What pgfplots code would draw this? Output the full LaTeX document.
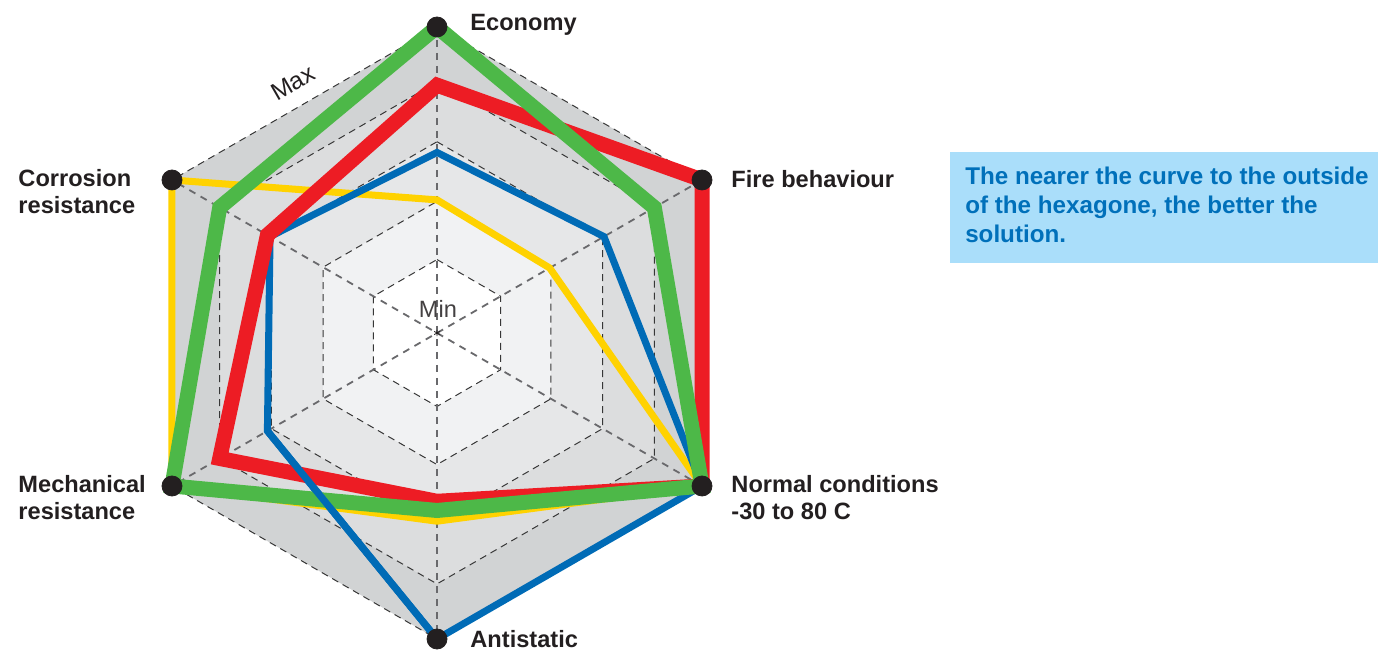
\documentclass[border=0pt]{standalone}
\usepackage{fontspec}
\setmainfont{Liberation Sans}
\usepackage{pgfplots}
\pgfplotsset{compat=1.18}
\definecolor{cgreen}{RGB}{77,184,72}
\definecolor{cred}{RGB}{237,28,36}
\definecolor{cblue}{RGB}{0,107,182}
\definecolor{cyellow}{RGB}{255,210,0}
\definecolor{cdot}{RGB}{35,31,32}
\definecolor{band1}{RGB}{241,242,243}
\definecolor{band2}{RGB}{230,231,232}
\definecolor{band3}{RGB}{220,221,222}
\definecolor{band4}{RGB}{209,211,212}
\definecolor{gridc}{RGB}{55,55,55}
\definecolor{spokec}{RGB}{105,105,108}
\definecolor{boxbg}{RGB}{170,222,250}
\definecolor{boxtxt}{RGB}{0,112,186}
\pgfplotsset{
  hexlev/.style={data cs=polar, draw=gridc, line width=0.5bp, dash pattern=on 3.5bp off 2.5bp, fill=#1},
  spoke/.style={data cs=polar, draw=spokec, line width=0.9bp, dash pattern=on 3.5bp off 3bp},
  series/.style 2 args={data cs=polar, draw=#1, line width=#2, line join=miter, miter limit=10},
}
\begin{document}
\begin{tikzpicture}
\begin{axis}[name=ax, x=153bp, y=153bp,
  xmin=-1.4281, xmax=3.0784, ymin=-1.0425, ymax=1.0882,
  hide axis, clip=false]
% background hexagon bands (levels)
\addplot[hexlev=band4] coordinates {(90,1) (30,1) (-30,1) (-90,1) (-150,1) (150,1)} -- cycle;
\addplot[hexlev=band3] coordinates {(90,0.82) (30,0.82) (-30,0.82) (-90,0.82) (-150,0.82) (150,0.82)} -- cycle;
\addplot[hexlev=band2] coordinates {(90,0.625) (30,0.625) (-30,0.625) (-90,0.625) (-150,0.625) (150,0.625)} -- cycle;
\addplot[hexlev=band1] coordinates {(90,0.43) (30,0.43) (-30,0.43) (-90,0.43) (-150,0.43) (150,0.43)} -- cycle;
\addplot[hexlev=white] coordinates {(90,0.24) (30,0.24) (-30,0.24) (-90,0.24) (-150,0.24) (150,0.24)} -- cycle;
% spokes
\addplot[spoke] coordinates {(90,1) (270,1)};
\addplot[spoke] coordinates {(30,1) (210,1)};
\addplot[spoke] coordinates {(-30,1) (150,1)};
% order of axes: Economy 90, Fire 30, Normal -30, Antistatic -90, Mechanical -150, Corrosion 150
\addplot[series={cyellow}{3.5bp}] coordinates {(90,0.435) (30,0.425) (-30,1.0) (-90,0.615) (-150,1.0) (150,1.0)} -- cycle;
\addplot[series={cblue}{3.5bp}] coordinates {(90,0.59) (30,0.63) (-30,1.0) (-90,1.0) (-150,0.64) (150,0.63)} -- cycle;
\addplot[series={cred}{7.5bp}] coordinates {(90,0.81) (30,1.0) (-30,1.0) (-90,0.55) (-150,0.82) (150,0.64)} -- cycle;
\addplot[series={cgreen}{7.5bp}] coordinates {(90,1.0) (30,0.82) (-30,1.0) (-90,0.58) (-150,1.0) (150,0.82)} -- cycle;
\addplot[series={cblue}{3.5bp}] coordinates {(-150,0.64) (-90,1.0)};
% vertex dots
\addplot[data cs=polar, only marks, mark=*, mark size=5bp, mark options={draw=cdot, fill=cdot}]
  coordinates {(90,1) (30,1) (-30,1) (-90,1) (-150,1) (150,1)};
\addplot[only marks, mark=asterisk, mark size=1.6bp, mark options={draw=cdot, line width=0.4bp}] coordinates {(0,0)};
% labels
\begin{scope}[every node/.style={inner sep=0pt, text=cdot, font=\bfseries\fontsize{11.8bp}{14bp}\selectfont, anchor=base west}]
\node at (axis cs:0.108,0.987) {Economy};
\node at (axis cs:0.961,0.477) {Fire behaviour};
\node at (axis cs:0.961,-0.520) {Normal conditions};
\node at (axis cs:0.961,-0.611) {-30 to 80 C};
\node at (axis cs:0.108,-1.029) {Antistatic};
\node at (axis cs:-1.369,-0.520) {Mechanical};
\node at (axis cs:-1.369,-0.611) {resistance};
\node at (axis cs:-1.369,0.480) {Corrosion};
\node at (axis cs:-1.369,0.392) {resistance};
\end{scope}
\node[inner sep=0pt, text=cdot, font=\fontsize{12.2bp}{14bp}\selectfont, rotate=30] at (axis cs:-0.4706,0.817) {Max};
\node[inner sep=0pt, text=cdot!85, font=\fontsize{11.8bp}{14bp}\selectfont] at (axis cs:0.003,0.078) {Min};
% info box
\fill[boxbg] (axis cs:1.676,0.5915) rectangle (axis cs:3.075,0.229);
\begin{scope}[every node/.style={inner sep=0pt, text=boxtxt, font=\bfseries\fontsize{12.1bp}{14.5bp}\selectfont, anchor=base west}]
\node at (axis cs:1.725,0.4837) {The nearer the curve to the outside};
\node at (axis cs:1.725,0.392) {of the hexagone, the better the};
\node at (axis cs:1.725,0.297) {solution.};
\end{scope}
\end{axis}
\pgfresetboundingbox
\path (ax.south west) rectangle (ax.north east);
\end{tikzpicture}
\end{document}
